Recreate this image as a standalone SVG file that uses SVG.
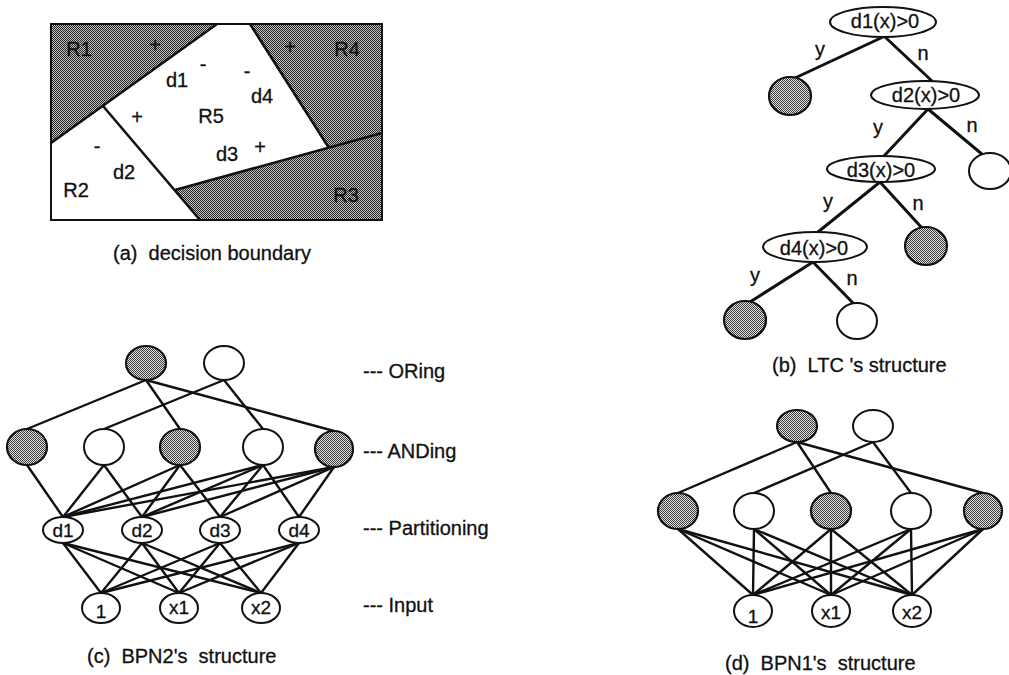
<svg xmlns="http://www.w3.org/2000/svg" width="1009" height="675" viewBox="0 0 1009 675">
<style>
text{font-family:"Liberation Sans",Arial,sans-serif;font-size:20px;fill:#111;stroke:#111;stroke-width:0.3;white-space:pre}
.m{text-anchor:middle}
.nl{font-size:19px;text-anchor:middle}
.e{stroke:#111;stroke-width:2.4;fill:none;stroke-linecap:round}
.t{stroke:#111;stroke-width:3;fill:none;stroke-linecap:round}
.b{stroke:#111;stroke-width:2.6;fill:none}
.w{fill:#fff;stroke:#111;stroke-width:2}
.f{fill:url(#nd);stroke:#111;stroke-width:2.2}
.g{fill:url(#ht)}
</style>
<defs>
<pattern id="ht" width="2" height="2" patternUnits="userSpaceOnUse">
<rect width="2" height="2" fill="#c4c4c4"/><rect width="1" height="1" fill="#222"/><rect x="1" y="1" width="1" height="1" fill="#222"/>
</pattern>
<pattern id="nd" width="2" height="2" patternUnits="userSpaceOnUse">
<rect width="2" height="2" fill="#e4e4e4"/><rect width="1" height="1" fill="#3a3a3a"/><rect x="1" y="1" width="1" height="1" fill="#3a3a3a"/>
</pattern>
</defs>
<rect width="1009" height="675" fill="#fff"/>

<!-- (a) decision boundary -->
<g id="panel-a">
<rect x="51" y="24" width="331" height="196" fill="#fff"/>
<polygon class="g" points="51,24 217,24 51,143"/>
<polygon class="g" points="250,24 382,24 382,133 329,148"/>
<polygon class="g" points="175,190 382,133 382,220 200,220"/>
<line class="b" x1="51" y1="143" x2="217" y2="24"/>
<line class="b" x1="103" y1="106" x2="200" y2="220"/>
<line class="b" x1="175" y1="190" x2="382" y2="133"/>
<line class="b" x1="250" y1="24" x2="329" y2="148"/>
<rect x="51" y="24" width="331" height="196" fill="none" stroke="#111" stroke-width="2"/>
<text class="m" x="79" y="56">R1</text>
<text class="m" x="155" y="52">+</text>
<text class="m" x="290" y="54">+</text>
<text class="m" x="347" y="56">R4</text>
<text class="m" x="177" y="87">d1</text>
<text class="m" x="203" y="71">-</text>
<text class="m" x="247" y="78">-</text>
<text class="m" x="262" y="103">d4</text>
<text class="m" x="137" y="124">+</text>
<text class="m" x="211" y="123">R5</text>
<text class="m" x="97" y="153">-</text>
<text class="m" x="227" y="161">d3</text>
<text class="m" x="260" y="154">+</text>
<text class="m" x="124" y="179">d2</text>
<text class="m" x="76" y="197">R2</text>
<text class="m" x="346" y="202" fill="#333">R3</text>
<text x="113" y="260">(a)  decision boundary</text>
</g>

<!-- (b) LTC tree -->
<g id="b-connectors">
<line class="t" x1="883" y1="37" x2="795" y2="78"/>
<line class="t" x1="885" y1="37" x2="932" y2="81"/>
<line class="t" x1="928" y1="109" x2="884" y2="156"/>
<line class="t" x1="928" y1="109" x2="983" y2="155"/>
<line class="t" x1="880" y1="182" x2="818" y2="232"/>
<line class="t" x1="880" y1="182" x2="922" y2="228"/>
<line class="t" x1="813" y1="262" x2="750" y2="302"/>
<line class="t" x1="813" y1="262" x2="853" y2="303"/>
<text class="m" x="820" y="56">y</text>
<text class="m" x="923" y="60">n</text>
<text class="m" x="878" y="134">y</text>
<text class="m" x="972" y="132">n</text>
<text class="m" x="828" y="208">y</text>
<text class="m" x="918" y="210">n</text>
<text class="m" x="755" y="282">y</text>
<text class="m" x="852" y="285">n</text>
</g>
<g id="b-d1"><ellipse class="w" cx="883" cy="22" rx="53" ry="15"/><text class="m" x="885" y="28">d1(x)&gt;0</text></g>
<g id="b-leaf1"><ellipse class="f" cx="790" cy="96" rx="21" ry="19"/></g>
<g id="b-d2"><ellipse class="w" cx="925" cy="95" rx="54" ry="14"/><text class="m" x="926" y="102">d2(x)&gt;0</text></g>
<g id="b-leaf2"><ellipse class="w" cx="990" cy="171" rx="21" ry="18"/></g>
<g id="b-d3"><ellipse class="w" cx="881" cy="169" rx="54" ry="13"/><text class="m" x="881" y="177">d3(x)&gt;0</text></g>
<g id="b-leaf3"><ellipse class="f" cx="926" cy="246" rx="21" ry="19"/></g>
<g id="b-d4"><ellipse class="w" cx="815" cy="247" rx="52" ry="15"/><text class="m" x="814" y="255">d4(x)&gt;0</text></g>
<g id="b-leaf4"><ellipse class="f" cx="745" cy="320" rx="21" ry="19"/></g>
<g id="b-leaf5"><ellipse class="w" cx="857" cy="321" rx="20" ry="18"/></g>
<text x="772" y="372">(b)  LTC 's structure</text>

<!-- (c) BPN2 -->
<g id="c-connectors">
<line class="e" x1="146" y1="380" x2="27" y2="429"/>
<line class="e" x1="146" y1="380" x2="180" y2="429"/>
<line class="e" x1="146" y1="380" x2="334" y2="431"/>
<line class="e" x1="224" y1="380" x2="104" y2="429"/>
<line class="e" x1="224" y1="380" x2="263" y2="429"/>
<line class="e" x1="27" y1="465" x2="63" y2="517"/>
<line class="e" x1="104" y1="465" x2="63" y2="517"/>
<line class="e" x1="104" y1="465" x2="142" y2="517"/>
<line class="e" x1="180" y1="465" x2="63" y2="517"/>
<line class="e" x1="180" y1="465" x2="142" y2="517"/>
<line class="e" x1="180" y1="465" x2="220" y2="517"/>
<line class="e" x1="263" y1="465" x2="63" y2="517"/>
<line class="e" x1="263" y1="465" x2="142" y2="517"/>
<line class="e" x1="263" y1="465" x2="220" y2="517"/>
<line class="e" x1="263" y1="465" x2="299" y2="517"/>
<line class="e" x1="334" y1="467" x2="63" y2="517"/>
<line class="e" x1="334" y1="467" x2="142" y2="517"/>
<line class="e" x1="334" y1="467" x2="220" y2="517"/>
<line class="e" x1="334" y1="467" x2="299" y2="517"/>
<line class="e" x1="63" y1="543" x2="101" y2="593"/>
<line class="e" x1="63" y1="543" x2="179" y2="593"/>
<line class="e" x1="63" y1="543" x2="261" y2="593"/>
<line class="e" x1="142" y1="543" x2="101" y2="593"/>
<line class="e" x1="142" y1="543" x2="179" y2="593"/>
<line class="e" x1="142" y1="543" x2="261" y2="593"/>
<line class="e" x1="220" y1="543" x2="101" y2="593"/>
<line class="e" x1="220" y1="543" x2="179" y2="593"/>
<line class="e" x1="220" y1="543" x2="261" y2="593"/>
<line class="e" x1="299" y1="543" x2="101" y2="593"/>
<line class="e" x1="299" y1="543" x2="179" y2="593"/>
<line class="e" x1="299" y1="543" x2="261" y2="593"/>
</g>
<g id="c-or1"><ellipse class="f" cx="146" cy="363" rx="20" ry="17"/></g>
<g id="c-or2"><ellipse class="w" cx="224" cy="363" rx="20" ry="17"/></g>
<g id="c-and1"><ellipse class="f" cx="27" cy="447" rx="20" ry="18"/></g>
<g id="c-and2"><ellipse class="w" cx="104" cy="447" rx="20" ry="18"/></g>
<g id="c-and3"><ellipse class="f" cx="180" cy="447" rx="20" ry="18"/></g>
<g id="c-and4"><ellipse class="w" cx="263" cy="447" rx="20" ry="18"/></g>
<g id="c-and5"><ellipse class="f" cx="334" cy="449" rx="19" ry="18"/></g>
<g id="c-d1"><ellipse class="w" cx="63" cy="530" rx="20" ry="13"/><text class="nl" x="63" y="537">d1</text></g>
<g id="c-d2"><ellipse class="w" cx="142" cy="530" rx="20" ry="13"/><text class="nl" x="142" y="537">d2</text></g>
<g id="c-d3"><ellipse class="w" cx="220" cy="530" rx="20" ry="13"/><text class="nl" x="220" y="537">d3</text></g>
<g id="c-d4"><ellipse class="w" cx="299" cy="530" rx="20" ry="13"/><text class="nl" x="299" y="537">d4</text></g>
<g id="c-in1"><ellipse class="w" cx="101" cy="608" rx="19" ry="15"/><text class="nl" x="101" y="618">1</text></g>
<g id="c-in2"><ellipse class="w" cx="179" cy="608" rx="19" ry="15"/><text class="nl" x="179" y="614">x1</text></g>
<g id="c-in3"><ellipse class="w" cx="261" cy="608" rx="19" ry="15"/><text class="nl" x="261" y="614">x2</text></g>
<text x="363" y="378">--- ORing</text>
<text x="363" y="458">--- ANDing</text>
<text x="363" y="535">--- Partitioning</text>
<text x="363" y="612">--- Input</text>
<text x="87" y="663">(c)  BPN2's  structure</text>

<!-- (d) BPN1 -->
<g id="d-connectors">
<line class="e" x1="797" y1="442" x2="678" y2="493"/>
<line class="e" x1="797" y1="442" x2="831" y2="493"/>
<line class="e" x1="797" y1="442" x2="983" y2="493"/>
<line class="e" x1="873" y1="442" x2="754" y2="493"/>
<line class="e" x1="873" y1="442" x2="911" y2="493"/>
<line class="e" x1="678" y1="529" x2="753" y2="595"/>
<line class="e" x1="678" y1="529" x2="831" y2="595"/>
<line class="e" x1="678" y1="529" x2="912" y2="595"/>
<line class="e" x1="754" y1="529" x2="753" y2="595" stroke-width="1.4"/>
<line class="e" x1="754" y1="529" x2="831" y2="595"/>
<line class="e" x1="754" y1="529" x2="912" y2="595"/>
<line class="e" x1="831" y1="529" x2="753" y2="595"/>
<line class="e" x1="831" y1="529" x2="831" y2="595" stroke-width="1.4"/>
<line class="e" x1="831" y1="529" x2="912" y2="595"/>
<line class="e" x1="911" y1="529" x2="753" y2="595"/>
<line class="e" x1="911" y1="529" x2="831" y2="595"/>
<line class="e" x1="911" y1="529" x2="912" y2="595" stroke-width="1.4"/>
<line class="e" x1="983" y1="529" x2="753" y2="595"/>
<line class="e" x1="983" y1="529" x2="831" y2="595"/>
<line class="e" x1="983" y1="529" x2="912" y2="595"/>
</g>
<g id="d-or1"><ellipse class="f" cx="797" cy="426" rx="20" ry="16"/></g>
<g id="d-or2"><ellipse class="w" cx="873" cy="426" rx="20" ry="16"/></g>
<g id="d-and1"><ellipse class="f" cx="678" cy="511" rx="20" ry="18"/></g>
<g id="d-and2"><ellipse class="w" cx="754" cy="511" rx="20" ry="18"/></g>
<g id="d-and3"><ellipse class="f" cx="831" cy="511" rx="20" ry="18"/></g>
<g id="d-and4"><ellipse class="w" cx="911" cy="511" rx="20" ry="18"/></g>
<g id="d-and5"><ellipse class="f" cx="983" cy="511" rx="19" ry="18"/></g>
<g id="d-in1"><ellipse class="w" cx="753" cy="611" rx="19" ry="16"/><text class="nl" x="753" y="623">1</text></g>
<g id="d-in2"><ellipse class="w" cx="831" cy="611" rx="19" ry="16"/><text class="nl" x="831" y="619">x1</text></g>
<g id="d-in3"><ellipse class="w" cx="912" cy="611" rx="19" ry="16"/><text class="nl" x="912" y="619">x2</text></g>
<text x="725" y="670">(d)  BPN1's  structure</text>
</svg>
